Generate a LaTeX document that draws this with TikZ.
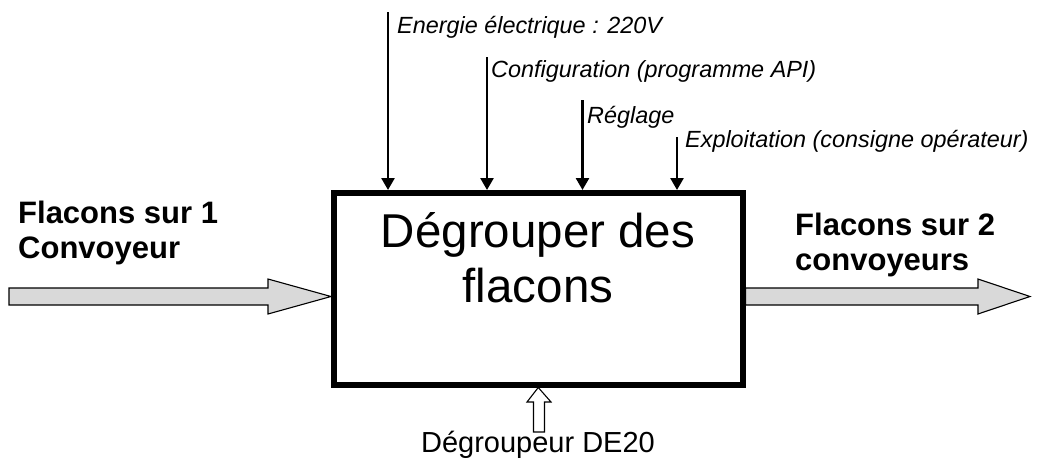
\documentclass[tikz,border=0pt]{standalone}
\usepackage{fontspec}
\setmainfont{Liberation Sans}
\usetikzlibrary{arrows.meta}
\tikzset{
  fnbox/.style={draw, line width=5.5pt, minimum width=409pt, minimum height=192pt, inner sep=0pt},
  ctrl/.style={line width=2.6pt, -{Triangle[width=13pt,length=12pt]}},
  ctrltext/.style={anchor=base west, inner sep=0pt, font=\fontsize{23.4}{28}\selectfont\itshape},
  flowtext/.style={anchor=base west, inner sep=0pt, align=left, font=\fontsize{31}{35}\selectfont\bfseries},
  greyarrow/.style={draw=black, line width=1.1pt, fill=black!15, line join=miter},
  hollowarrow/.style={draw=black, line width=1.1pt, fill=white, line join=miter},
}
\begin{document}
\begin{tikzpicture}[x=1pt,y=-1pt]
\useasboundingbox (0,0) rectangle (1037,461);
% main function box
\node[fnbox] (box) at (538.25,288.75) {};
\node[anchor=base, inner sep=0pt, align=center, font=\fontsize{47.5}{55}\selectfont] (title) at (538,302) {Dégrouper des\\flacons};
% control inputs
\coordinate (c1) at (388,12);
\coordinate (c2) at (487,57);
\coordinate (c3) at (582.5,100);
\coordinate (c4) at (677,137);
\draw[ctrl] (c1) -- (c1 |- box.north);
\draw[ctrl] (c2) -- (c2 |- box.north);
\draw[ctrl] (c3) -- (c3 |- box.north);
\draw[ctrl] (c4) -- (c4 |- box.north);
\node[ctrltext] (l1) at (397,33) {Energie électrique : 220V};
\node[ctrltext] (l2) at (491,77) {Configuration (programme API)};
\node[ctrltext] (l3) at (587,123) {Réglage};
\node[ctrltext] (l4) at (685,147) {Exploitation (consigne opérateur)};
% input flow
\node[flowtext] (inlbl) at (18,258) {Flacons sur 1\\Convoyeur};
\draw[greyarrow] (9,288) -- (268,288) -- (268,279) -- (box.west |- 0,296.5) -- (268,314) -- (268,305) -- (9,305) -- cycle;
% output flow
\node[flowtext] (outlbl) at (795,270) {Flacons sur 2\\convoyeurs};
\draw[greyarrow] (box.east |- 0,288) -- (978,288) -- (978,279) -- (1030,296.5) -- (978,314) -- (978,305) -- (box.east |- 0,305) -- cycle;
% mechanism
\draw[hollowarrow] (box.south) -- (551,402) -- (544.5,402) -- (544.5,432) -- (533.5,432) -- (533.5,402) -- (527,402) -- cycle;
\node[anchor=base, inner sep=0pt, font=\fontsize{29}{34}\selectfont] (mech) at (538,452) {Dégroupeur DE20};
\end{tikzpicture}
\end{document}
